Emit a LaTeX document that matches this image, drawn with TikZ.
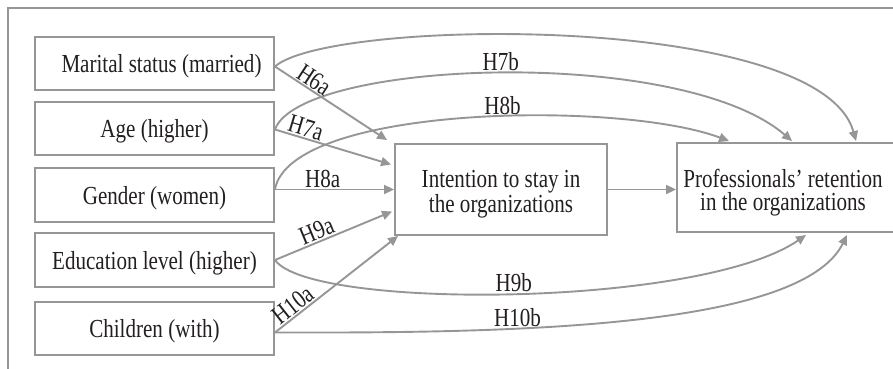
\documentclass[tikz,border=0pt]{standalone}
\usepackage{fontspec}
\setmainfont{Liberation Serif}[FakeStretch=0.81]
\usetikzlibrary{arrows.meta,calc}
\definecolor{lg}{RGB}{150,150,150}
\definecolor{tx}{RGB}{35,31,32}
\newcommand{\lowtxt}[1]{\raisebox{-3pt}[\height][\depth]{#1}}
\begin{document}
\begin{tikzpicture}[x=1pt,y=-1pt,
  box/.style={draw=lg, line width=1.9pt, font=\fontsize{26}{23.5}\selectfont, text=tx, align=center, inner sep=0pt},
  inlab/.style={font=\fontsize{26}{23.5}\selectfont, text=tx, align=center},
  arr/.style={draw=lg, line width=1.9pt, -{Triangle[length=10pt,width=9pt]}},
  lab/.style={font=\fontsize{26}{23.5}\selectfont, text=tx, inner sep=1pt}]
\useasboundingbox (0,0) rectangle (893,368);
\clip (0,0) rectangle (893,368);
\draw[lg, line width=1.9pt] (8,8) rectangle (950,420);
% boxes
\node[box, minimum width=239pt, minimum height=53pt] (mar) at (154.5,63.5) {\lowtxt{\hspace*{14pt}Marital status (married)}};
\node[box, minimum width=239pt, minimum height=53pt] (age) at (154.5,128.5) {\lowtxt{Age (higher)}};
\node[box, minimum width=239pt, minimum height=54pt] (gen) at (154.5,195) {\lowtxt{Gender (women)}};
\node[box, minimum width=239pt, minimum height=54pt] (edu) at (154.5,260) {\lowtxt{Education level (higher)}};
\node[box, minimum width=239pt, minimum height=53pt] (chi) at (154.5,328.5) {\lowtxt{Children (with)}};
\node[box, minimum width=212pt, minimum height=91pt,
  label={[inlab, yshift=-5pt]center:Intention to stay in\\the organizations}] (int) at (501,189.5) {};
\node[box, minimum width=223pt, minimum height=89pt,
  label={[inlab, xshift=-5.5pt, yshift=-5pt]center:Professionals’ retention\\in the organizations}] (pro) at (788.5,187.5) {};
% start points
\coordinate (m0) at ($(mar.east)+(0,3)$);
\coordinate (a0) at ($(age.east)+(0,1)$);
\coordinate (g0) at (gen.east |- int.west);
\coordinate (e0) at (edu.east);
\coordinate (c0) at ($(chi.east)+(0,4)$);
% targets on intention box
\coordinate (t6) at ($(int.north west)+(-7,-3)$);
\coordinate (t7) at ($(int.west)+(-3,-25)$);
\coordinate (t9) at ($(int.west)+(-2,22)$);
\coordinate (t10) at ($(int.south west)+(4,0)$);
% targets on professionals box
\coordinate (p8) at ($(pro.north west)+(53,-1)$);
\coordinate (p7) at ($(pro.north west)+(116,-1)$);
\coordinate (p6) at ($(pro.north west)+(180,-1)$);
\coordinate (p9) at ($(pro.south west)+(130,2)$);
\coordinate (p10) at ($(pro.south west)+(171,2)$);
% curves
\draw[arr] (m0) .. controls (330,18) and (820,12) .. (p6);
\draw[arr] (a0) .. controls (300,60) and (680,45) .. (p7) node[lab,pos=0.5,above]{H7b};
\draw[arr] (g0) .. controls (290,105) and (620,100) .. (p8) node[lab,pos=0.56,above]{H8b};
\draw[arr] (e0) .. controls (310,310) and (700,308) .. (p9) node[lab,pos=0.5,above]{H9b};
\draw[arr] (c0) .. controls (500,333) and (800,330) .. (p10) node[lab,pos=0.34,above]{H10b};
% straight
\draw[arr] (m0) -- (t6) node[lab,pos=0.3,above,sloped]{H6a};
\draw[arr] (a0) -- (t7) node[lab,pos=0.24,above,sloped]{H7a};
\draw[arr] (g0) -- (int.west) node[lab,pos=0.4,above]{H8a};
\draw[arr] (e0) -- (t9) node[lab,pos=0.39,above,sloped]{H9a};
\draw[arr] (c0) -- (t10) node[lab,pos=0.2,above,sloped]{H10a};
\draw[arr] (int.east) -- (int.east -| pro.west);
\end{tikzpicture}
\end{document}
